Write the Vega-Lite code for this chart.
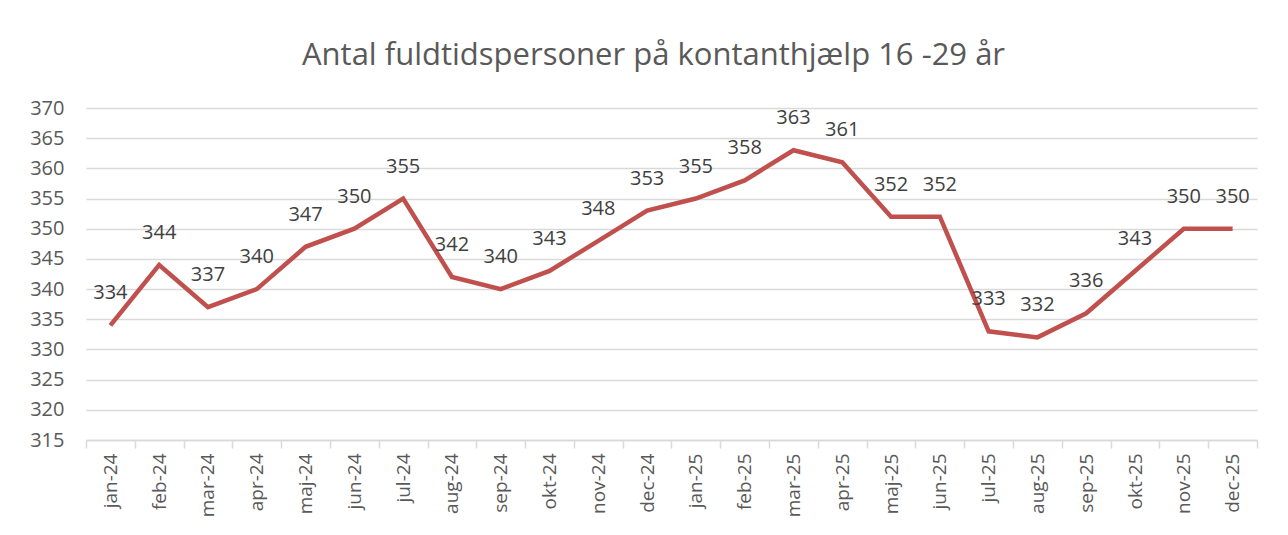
{
  "$schema": "https://vega.github.io/schema/vega-lite/v6.json",
  "autosize": {"type": "none"},
  "width": 1171,
  "height": 332,
  "padding": {"left": 86, "top": 108, "right": 31, "bottom": 95},
  "background": "white",
  "title": {
    "text": "Antal fuldtidspersoner på kontanthjælp 16 -29 år",
    "font": "Open Sans",
    "fontSize": 31,
    "fontWeight": "normal",
    "color": "#595959",
    "anchor": "middle",
    "dx": -18,
    "offset": 26
  },
  "data": {
    "values": [
      {"måned": "jan-24", "antal": 334},
      {"måned": "feb-24", "antal": 344},
      {"måned": "mar-24", "antal": 337},
      {"måned": "apr-24", "antal": 340},
      {"måned": "maj-24", "antal": 347},
      {"måned": "jun-24", "antal": 350},
      {"måned": "jul-24", "antal": 355},
      {"måned": "aug-24", "antal": 342},
      {"måned": "sep-24", "antal": 340},
      {"måned": "okt-24", "antal": 343},
      {"måned": "nov-24", "antal": 348},
      {"måned": "dec-24", "antal": 353},
      {"måned": "jan-25", "antal": 355},
      {"måned": "feb-25", "antal": 358},
      {"måned": "mar-25", "antal": 363},
      {"måned": "apr-25", "antal": 361},
      {"måned": "maj-25", "antal": 352},
      {"måned": "jun-25", "antal": 352},
      {"måned": "jul-25", "antal": 333},
      {"måned": "aug-25", "antal": 332},
      {"måned": "sep-25", "antal": 336},
      {"måned": "okt-25", "antal": 343},
      {"måned": "nov-25", "antal": 350},
      {"måned": "dec-25", "antal": 350}
    ]
  },
  "encoding": {
    "x": {
      "field": "måned",
      "type": "ordinal",
      "sort": null,
      "scale": {"paddingInner": 0, "paddingOuter": 0},
      "axis": {
        "title": null,
        "labelAngle": -90,
        "labelFont": "Open Sans",
        "labelFontSize": 19,
        "labelColor": "#595959",
        "labelPadding": 5,
        "domainColor": "#d9d9d9",
        "domainWidth": 1.5,
        "tickColor": "#d9d9d9",
        "tickWidth": 1.5,
        "tickSize": 8,
        "tickBand": "extent",
        "grid": false
      }
    },
    "y": {
      "field": "antal",
      "type": "quantitative",
      "scale": {"domain": [315, 370], "zero": false, "nice": false},
      "axis": {
        "title": null,
        "values": [315, 320, 325, 330, 335, 340, 345, 350, 355, 360, 365, 370],
        "labelFont": "Open Sans",
        "labelFontSize": 20,
        "labelColor": "#595959",
        "labelPadding": 22,
        "domain": false,
        "ticks": false,
        "grid": true,
        "gridColor": "#d9d9d9",
        "gridWidth": 1.5
      }
    }
  },
  "layer": [
    {
      "mark": {"type": "line", "color": "#C0504D", "strokeWidth": 4.5, "strokeJoin": "miter", "strokeCap": "butt"}
    },
    {
      "mark": {"type": "text", "font": "Open Sans", "fontSize": 20, "color": "#404040", "dy": -32, "baseline": "middle"},
      "encoding": {"text": {"field": "antal", "type": "quantitative"}}
    }
  ],
  "config": {"view": {"stroke": null}}
}
